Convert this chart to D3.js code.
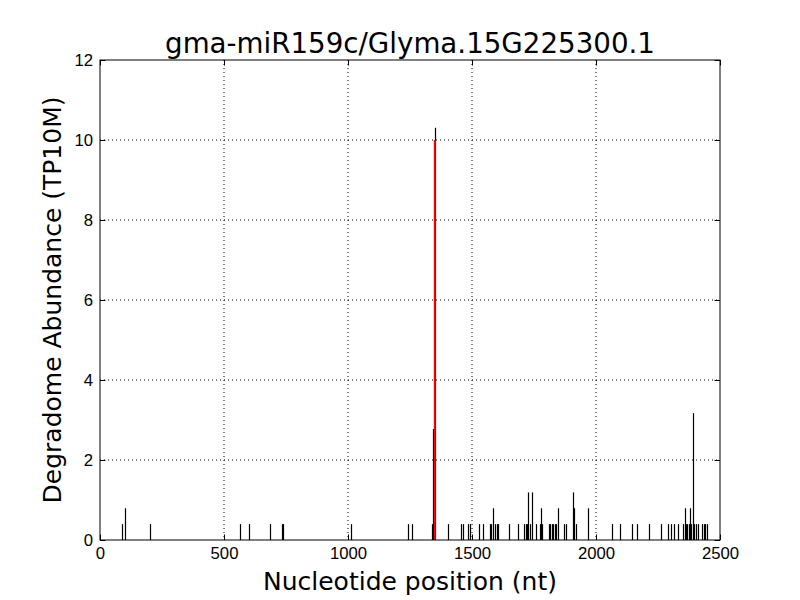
<!DOCTYPE html>
<html>
<head>
<meta charset="utf-8">
<script src="https://cdn.jsdelivr.net/npm/d3@7"></script>
<style>
body { margin: 0; background: #fff; }
svg { font-family: "DejaVu Sans", sans-serif; }
</style>
</head>
<body>
<svg id="chart" width="800" height="600"></svg>
<script>
var title = 'gma-miR159c/Glyma.15G225300.1'
var unit = 0.3965
// nucleotide positions and read counts (abundance = reads * unit)
var positions = [90, 102, 203, 566, 601, 684, 733, 737, 1012, 1243, 1258, 1339, 1343, 1350,
    1404, 1457, 1462, 1485, 1490, 1528, 1546, 1572, 1578, 1584, 1592, 1600, 1606, 1651, 1687,
    1710, 1716, 1720, 1726, 1732, 1743, 1758, 1776, 1779, 1781, 1810, 1816, 1822, 1828, 1834,
    1840, 1847, 1872, 1879, 1907, 1913, 1920, 1966, 2066, 2098, 2147, 2164, 2215, 2262, 2292,
    2302, 2314, 2329, 2352, 2358, 2363, 2368, 2373, 2379, 2385, 2392, 2397, 2403, 2411, 2427,
    2434, 2440, 2446]
var reads = [1, 2, 1, 1, 1, 1, 1, 1, 1, 1, 1, 1, 7, 26,
    1, 1, 1, 1, 1, 1, 1, 1, 1, 2, 1, 1, 1, 1, 1,
    1, 1, 1, 3, 1, 3, 1, 1, 2, 1, 1, 1, 1, 1, 1,
    1, 2, 1, 1, 3, 2, 1, 2, 1, 1, 1, 1, 1, 1, 1,
    1, 1, 1, 1, 2, 1, 1, 1, 2, 1, 8, 1, 1, 1, 1,
    1, 1, 1]
var targetSite = 1350
var targetValue = 10
var xTicks = [0, 500, 1000, 1500, 2000, 2500]
var yTicks = [0, 2, 4, 6, 8, 10, 12]

var margin = { l: 100, t: 60, r: 80, b: 60 }
var width = 800 - margin.l - margin.r
var height = 600 - margin.t - margin.b

var svg = d3.select('#chart')
var g = svg.append('g').attr('transform', 'translate(' + margin.l + ',' + margin.t + ')')

var x = d3.scaleLinear().domain([0, 2500]).range([0, width])
var y = d3.scaleLinear().domain([0, 12]).range([height, 0])

// grid
g.append('g').selectAll('line').data(xTicks.slice(1, -1)).enter().append('line')
    .attr('x1', d => x(d)).attr('x2', d => x(d))
    .attr('y1', 0).attr('y2', height)
    .attr('stroke', '#000').attr('stroke-width', 1).attr('stroke-dasharray', '1,3')
g.append('g').selectAll('line').data(yTicks.slice(1, -1)).enter().append('line')
    .attr('y1', d => y(d)).attr('y2', d => y(d))
    .attr('x1', 0).attr('x2', width)
    .attr('stroke', '#000').attr('stroke-width', 1).attr('stroke-dasharray', '1,3')

// bars
var data = positions.map((p, i) => ({ p: p, v: reads[i] * unit }))
g.append('g').selectAll('line').data(data).enter().append('line')
    .attr('x1', d => Math.round(x(d.p)) + 0.5).attr('x2', d => Math.round(x(d.p)) + 0.5)
    .attr('y1', y(0)).attr('y2', d => y(d.v))
    .attr('stroke', '#000').attr('stroke-width', 1.2)

// target site
g.append('line')
    .attr('x1', x(targetSite)).attr('x2', x(targetSite))
    .attr('y1', y(0)).attr('y2', y(targetValue))
    .attr('stroke', '#ff0000').attr('stroke-width', 2)

// axes, inward ticks on all sides
function styleAxis(sel) {
    sel.select('.domain').remove()
    sel.selectAll('text').attr('font-size', 16.7).attr('fill', '#000')
    sel.selectAll('line').attr('stroke', '#000')
}
g.append('g').attr('transform', 'translate(0,' + height + ')')
    .call(d3.axisBottom(x).tickValues(xTicks).tickFormat(d3.format('d')).tickSizeInner(-5.5).tickPadding(7))
    .call(styleAxis)
g.append('g')
    .call(d3.axisLeft(y).tickValues(yTicks).tickSizeInner(-5.5).tickPadding(7))
    .call(styleAxis)
g.append('g')
    .call(d3.axisTop(x).tickValues(xTicks).tickSizeInner(-5.5).tickFormat(''))
    .call(styleAxis)
g.append('g').attr('transform', 'translate(' + width + ',0)')
    .call(d3.axisRight(y).tickValues(yTicks).tickSizeInner(-5.5).tickFormat(''))
    .call(styleAxis)

g.append('rect').attr('width', width).attr('height', height)
    .attr('fill', 'none').attr('stroke', '#000').attr('stroke-width', 1)

svg.append('text').attr('x', margin.l + width / 2).attr('y', 53)
    .attr('text-anchor', 'middle').attr('font-size', 27.7).text(title)
svg.append('text').attr('x', margin.l + width / 2).attr('y', 590)
    .attr('text-anchor', 'middle').attr('font-size', 25).text('Nucleotide position (nt)')
svg.append('text').attr('transform', 'translate(61,' + (margin.t + height / 2) + ') rotate(-90)')
    .attr('text-anchor', 'middle').attr('font-size', 25).text('Degradome Abundance (TP10M)')
</script>
</body>
</html>
